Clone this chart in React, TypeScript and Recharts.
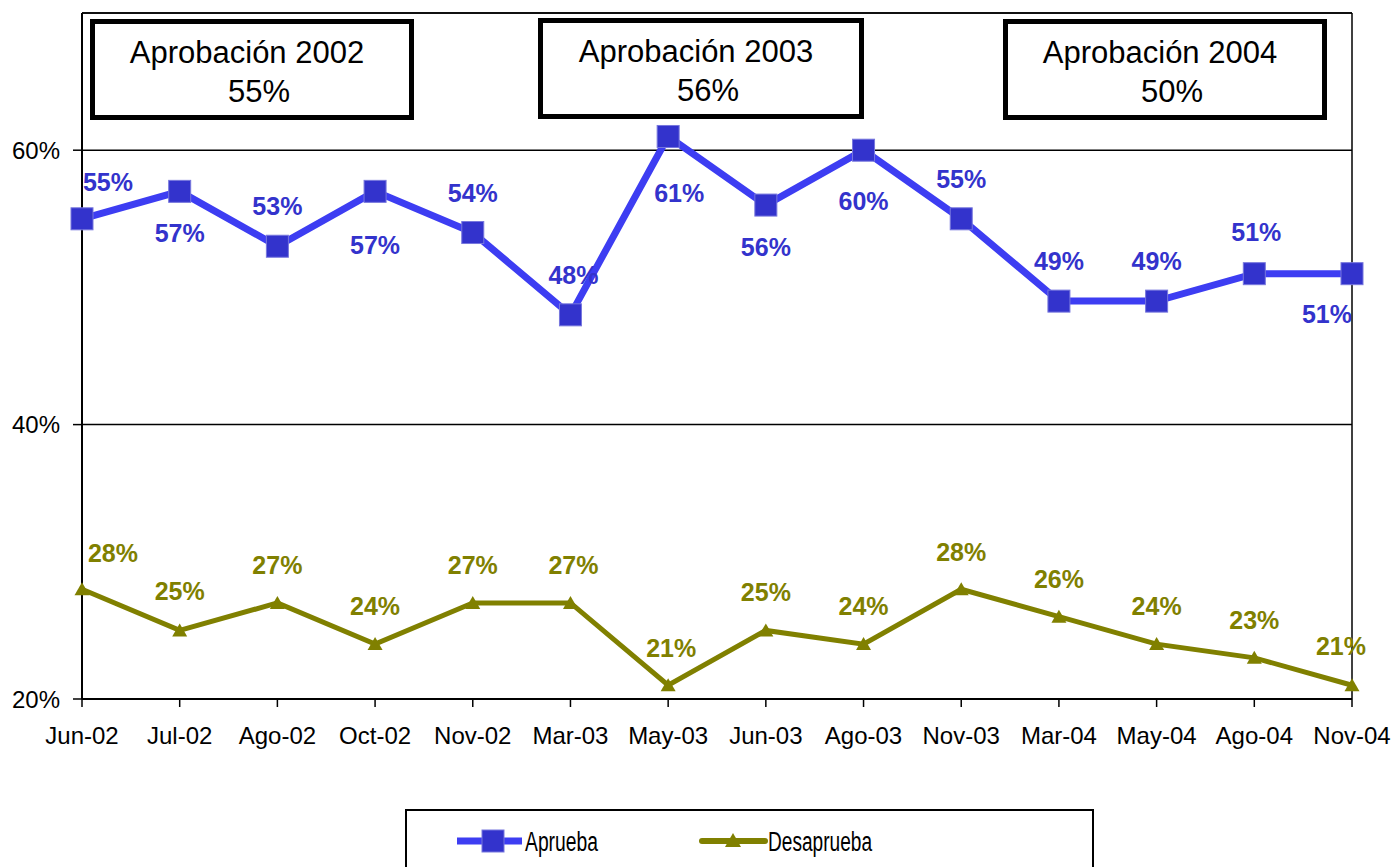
import { LineChart, Line, XAxis, YAxis, CartesianGrid, ReferenceLine, LabelList } from "recharts";

const months = ["Jun-02", "Jul-02", "Ago-02", "Oct-02", "Nov-02", "Mar-03", "May-03", "Jun-03", "Ago-03", "Nov-03", "Mar-04", "May-04", "Ago-04", "Nov-04"];
const aprueba = [55, 57, 53, 57, 54, 48, 61, 56, 60, 55, 49, 49, 51, 51];
const desaprueba = [28, 25, 27, 24, 27, 27, 21, 25, 24, 28, 26, 24, 23, 21];
const yTicks = [20, 40, 60];

const annTitles = ["Aprobación 2002", "Aprobación 2003", "Aprobación 2004"];
const annValues = ["55%", "56%", "50%"];

// label offsets [dx, dy] per point
const apruebaLabelPos = [
  [26, -37], [0, 42], [0, -40], [0, 54], [0, -40], [3, -40], [11, 57],
  [0, 42], [0, 51], [0, -40], [0, -40], [0, -40], [2, -42], [-25, 40],
];
const desapruebaLabelPos = [
  [31, -36], [0, -39], [0, -38], [0, -38], [0, -38], [3, -38], [3, -37],
  [0, -38], [0, -38], [0, -37], [0, -38], [0, -38], [0, -38], [-11, -39],
];
const annBoxes = [
  { left: 90, top: 19, width: 324 },
  { left: 538, top: 18, width: 326 },
  { left: 1003, top: 19, width: 324 },
];

const BLUE = "#3333CC";
const BLUE_LINE = "#3d3df2";
const OLIVE = "#808000";
const FONT = "Arial, 'Liberation Sans', sans-serif";

const data = months.map((m, i) => ({ month: m, aprueba: aprueba[i], desaprueba: desaprueba[i] }));

const SquareDot = (props: any) => {
  const { cx, cy } = props;
  if (cx == null || cy == null) return null;
  return <rect x={cx - 11} y={cy - 11} width={22} height={22} fill={BLUE} stroke="#7777dd" strokeWidth={1} />;
};

const TriangleDot = (props: any) => {
  const { cx, cy } = props;
  if (cx == null || cy == null) return null;
  return <polygon points={`${cx},${cy - 7} ${cx + 7.5},${cy + 6} ${cx - 7.5},${cy + 6}`} fill={OLIVE} />;
};

const makeLabel = (pos: number[][], color: string) => (props: any) => {
  const { x, y, value, index } = props;
  const o = pos[index] || [0, -38];
  return (
    <text x={x + o[0]} y={y + o[1]} fill={color} textAnchor="middle" dominantBaseline="central" fontSize={25} fontWeight="bold" fontFamily={FONT}>
      {value}%
    </text>
  );
};

export default function App() {
  return (
    <div style={{ position: "absolute", left: 0, top: 0, width: 1392, height: 867, overflow: "hidden", background: "#fff", fontFamily: FONT }}>
      <LineChart width={1392} height={867} data={data} margin={{ top: 13, right: 40, left: 12, bottom: 128 }}>
        <CartesianGrid vertical={false} stroke="#000" strokeWidth={1.5} />
        <XAxis
          dataKey="month"
          height={40}
          interval={0}
          tickSize={8}
          tickMargin={20}
          axisLine={{ stroke: "#000", strokeWidth: 2 }}
          tickLine={{ stroke: "#000", strokeWidth: 1.5 }}
          tick={{ fill: "#000", fontSize: 24, fontFamily: FONT }}
        />
        <YAxis
          domain={[20, 70]}
          ticks={yTicks}
          width={70}
          tickSize={9}
          tickMargin={13}
          tickFormatter={(v: number) => `${v}%`}
          axisLine={{ stroke: "#000", strokeWidth: 2 }}
          tickLine={{ stroke: "#000", strokeWidth: 1.5 }}
          tick={{ fill: "#000", fontSize: 24, fontFamily: FONT }}
        />
        <ReferenceLine y={70} stroke="#000" strokeWidth={1.5} />
        <ReferenceLine x="Nov-04" stroke="#000" strokeWidth={1.5} />
        <Line dataKey="aprueba" stroke={BLUE_LINE} strokeWidth={7} dot={<SquareDot />} activeDot={false} isAnimationActive={false}>
          <LabelList dataKey="aprueba" content={makeLabel(apruebaLabelPos, BLUE)} />
        </Line>
        <Line dataKey="desaprueba" stroke={OLIVE} strokeWidth={5} dot={<TriangleDot />} activeDot={false} isAnimationActive={false}>
          <LabelList dataKey="desaprueba" content={makeLabel(desapruebaLabelPos, OLIVE)} />
        </Line>
      </LineChart>

      {annBoxes.map((b, i) => (
        <div
          key={i}
          style={{
            position: "absolute",
            left: b.left,
            top: b.top,
            width: b.width,
            height: 101,
            boxSizing: "border-box",
            border: "5px solid #000",
            background: "#fff",
            textAlign: "center",
            fontSize: 31,
            lineHeight: "39px",
            paddingTop: 9,
            color: "#000",
          }}
        >
          <div style={{ paddingRight: 10 }}>{annTitles[i]}</div>
          <div style={{ paddingLeft: 14 }}>{annValues[i]}</div>
        </div>
      ))}

      <svg style={{ position: "absolute", left: 405, top: 809 }} width={690} height={58}>
        <rect x={1} y={1} width={687} height={80} fill="#fff" stroke="#000" strokeWidth={2} />
        <line x1={52} y1={32} x2={117} y2={32} stroke={BLUE_LINE} strokeWidth={7} />
        <rect x={77} y={21} width={22} height={22} fill={BLUE} stroke="#7777dd" strokeWidth={1} />
        <text x={120} y={33} dominantBaseline="central" fontSize={27} fontFamily={FONT} textLength={73} lengthAdjust="spacingAndGlyphs">
          Aprueba
        </text>
        <line x1={297} y1={32} x2={360} y2={32} stroke={OLIVE} strokeWidth={6} strokeLinecap="round" />
        <polygon points="328,24 336,38 320,38" fill={OLIVE} />
        <text x={363} y={33} dominantBaseline="central" fontSize={27} fontFamily={FONT} textLength={104} lengthAdjust="spacingAndGlyphs">
          Desaprueba
        </text>
      </svg>
    </div>
  );
}
